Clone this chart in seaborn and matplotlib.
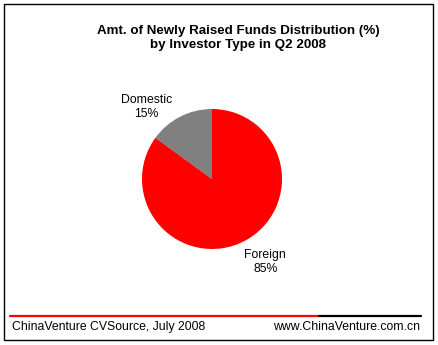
import matplotlib
matplotlib.use("Agg")
import matplotlib.pyplot as plt
from matplotlib.patches import Rectangle
from matplotlib.lines import Line2D
import seaborn as sns

# Data
categories = ["Domestic", "Foreign"]
shares = [15, 85]
slice_colors = ["#808080", "#FF0000"]
title_text = "Amt. of Newly Raised Funds Distribution (%)\nby Investor Type in Q2 2008"
source_text = "ChinaVenture CVSource, July 2008"
site_text = "www.ChinaVenture.com.cn"

sns.set_theme(style="white")
plt.rcParams["font.family"] = ["Liberation Sans", "DejaVu Sans"]

W, H = 439, 345
fig = plt.figure(figsize=(W / 100, H / 100), dpi=100)
fig.patch.set_facecolor("white")

def fx(px):
    return px / W

def fy(py):
    return 1 - py / H

# Outer frame
fig.add_artist(Rectangle((fx(3.5), fy(339.5)), fx(430), (336 / H),
                         transform=fig.transFigure, fill=False,
                         edgecolor="black", linewidth=1.0))

# Pie axes: centre (212,179), radius 70 px
cx, cy, r = 212, 179, 70
ax = fig.add_axes([fx(cx - r), fy(cy + r), 2 * r / W, 2 * r / H])
ax.pie(shares, colors=slice_colors, startangle=90, counterclock=True,
       radius=1.0, wedgeprops=dict(linewidth=0))
ax.set_xlim(-1, 1)
ax.set_ylim(-1, 1)
ax.set_aspect("equal")
ax.axis("off")

label_pos = {"Domestic": (-0.94, 1.03), "Foreign": (0.76, -1.19)}
for cat, val in zip(categories, shares):
    x, y = label_pos[cat]
    ax.text(x, y, f"{cat}\n{val}%", ha="center", va="center",
            fontsize=8.8, color="black", linespacing=1.2, clip_on=False)

# Title
fig.text(fx(238), fy(38), title_text, ha="center", va="center",
         fontsize=9.6, fontweight="bold", color="black", linespacing=1.2)

# Footer rule: red then black
fig.add_artist(Line2D([fx(10), fx(319)], [fy(316), fy(316)],
                      transform=fig.transFigure, color="#FF0000", linewidth=1.6))
fig.add_artist(Line2D([fx(319), fx(421)], [fy(316), fy(316)],
                      transform=fig.transFigure, color="black", linewidth=1.6))

fig.text(fx(12), fy(327), source_text, ha="left", va="center",
         fontsize=8.8, color="black")
fig.text(fx(420), fy(327), site_text, ha="right", va="center",
         fontsize=8.8, color="black")

fig.savefig("out.png", dpi=100, facecolor="white")
